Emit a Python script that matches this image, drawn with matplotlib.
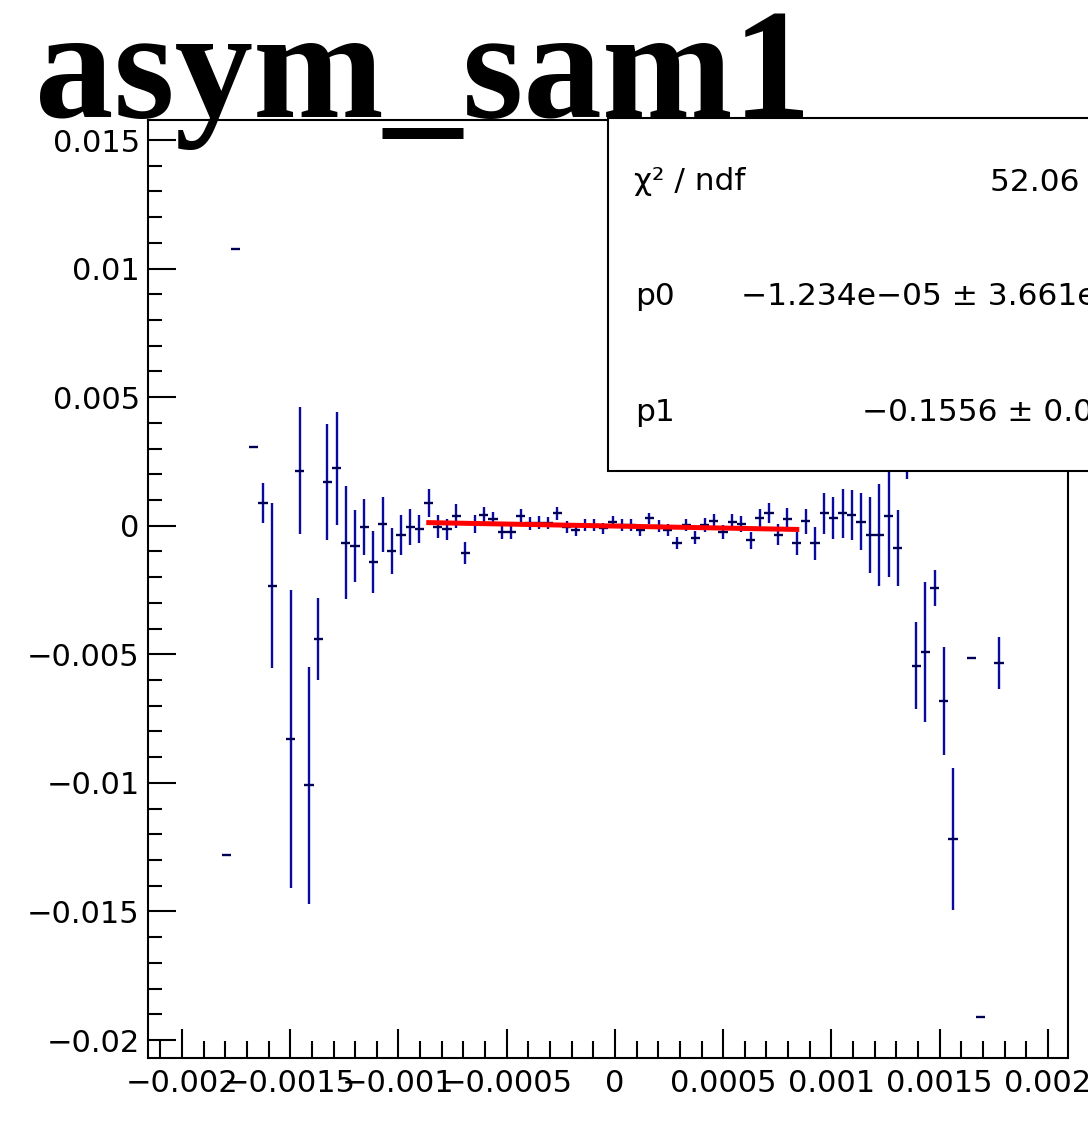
import numpy as np
import matplotlib
matplotlib.use("Agg")
import matplotlib.pyplot as plt
from matplotlib.patches import Rectangle
from matplotlib.ticker import MultipleLocator, FixedLocator

# histogram binning (100 bins)
xlo, nbins, bw = -0.002157, 100, 0.0000425

# filled bins: index, content, error
bin_idx = [8, 9, 11, 12, 13, 15, 16, 17, 18, 19, 20, 21, 22, 23, 24, 25, 26, 27, 28, 29,
           30, 31, 32, 33, 34, 35, 36, 37, 38, 39, 40, 41, 42, 43, 44, 45, 46, 47, 48, 49,
           50, 51, 52, 53, 54, 55, 56, 57, 58, 59, 60, 61, 62, 63, 64, 65, 66, 67, 68, 69,
           70, 71, 72, 73, 74, 75, 76, 77, 78, 79, 80, 81, 82, 83, 84, 85, 86, 87, 89, 90, 92]
content = [-0.01281, 0.01075, 0.00305, 0.00089, -0.00233, -0.0083, 0.00213, -0.0101, -0.0044, 0.00171,
           0.00223, -0.00066, -0.00078, -0.00005, -0.0014, 0.00005, -0.00098, -0.00036, -0.00005, -0.00014,
           0.00089, -0.00004, -0.00014, 0.00038, -0.00106, 0.00007, 0.00042, 0.00025, -0.00025, -0.00025,
           0.00038, 0.0001, 0.00012, 0.0001, 0.00048, -0.00004, -0.00017, 0.00003, 0.00003, -0.0001,
           0.00016, 0.00003, 0.00003, -0.00018, 0.00029, -0.00001, -0.00017, -0.00067, 0.00003, -0.00046,
           0.00003, 0.00018, -0.00025, 0.00014, 0.00007, -0.00056, 0.00029, 0.00049, -0.00035, 0.00027,
           -0.00068, 0.00017, -0.00068, 0.00048, 0.00029, 0.00048, 0.00042, 0.00016, -0.00036, -0.00036,
           0.00038, -0.00088, 0.0035, -0.00544, -0.00492, -0.00243, -0.0068, -0.01218, -0.00513, -0.01912,
           -0.00533]
error = [0, 0, 0, 0.00077, 0.0032, 0.0058, 0.00247, 0.0046, 0.0016, 0.00226,
         0.0022, 0.0022, 0.0014, 0.00108, 0.0012, 0.00108, 0.00088, 0.00076, 0.00071, 0.00055,
         0.00054, 0.00045, 0.00042, 0.00045, 0.00042, 0.00036, 0.0003, 0.00027, 0.00026, 0.00026,
         0.00026, 0.00025, 0.00024, 0.00024, 0.00025, 0.00023, 0.00023, 0.00023, 0.00022, 0.00022,
         0.00022, 0.00022, 0.00022, 0.00022, 0.00022, 0.00023, 0.00023, 0.00024, 0.00024, 0.00025,
         0.00026, 0.00027, 0.00028, 0.0003, 0.00031, 0.00033, 0.00036, 0.00038, 0.0004, 0.00042,
         0.00045, 0.00049, 0.00065, 0.0008, 0.00081, 0.00096, 0.00097, 0.00112, 0.00148, 0.002,
         0.00236, 0.00148, 0.0017, 0.00168, 0.00272, 0.00069, 0.0021, 0.00277, 0, 0,
         0.00102]

# pol1 fit
fit_range = (-0.00086, 0.00084)
p0, p1 = -1.234e-05, -0.1556

xticks = [-0.002, -0.0015, -0.001, -0.0005, 0, 0.0005, 0.001, 0.0015, 0.002]
xticklabels = ["\u22120.002", "\u22120.0015", "\u22120.001", "\u22120.0005", "0",
               "0.0005", "0.001", "0.0015", "0.002"]
yticks = [-0.02, -0.015, -0.01, -0.005, 0, 0.005, 0.01, 0.015]
yticklabels = ["\u22120.02", "\u22120.015", "\u22120.01", "\u22120.005", "0",
               "0.005", "0.01", "0.015"]

plt.rcParams["font.family"] = "DejaVu Sans"

W, H = 1088, 1128
fig = plt.figure(figsize=(W / 100, H / 100), dpi=100)
ax = fig.add_axes([148 / W, 1 - 1058 / H, 920 / W, 938 / H])

x = xlo + (np.array(bin_idx) + 0.5) * bw
y = np.array(content)
e = np.array(error)

ax.vlines(x, y - e, y + e, color="#0a0a9e", lw=1.7, zorder=3)
ax.hlines(y, x - bw / 2, x + bw / 2, color="#000055", lw=1.7, zorder=4)

fx = np.linspace(fit_range[0], fit_range[1], 50)
ax.plot(fx, p0 + p1 * fx, color="#ff0000", lw=3.6, zorder=5)

ax.set_xlim(xlo, xlo + nbins * bw)
ax.set_ylim(-0.0207, 0.01578)

ax.xaxis.set_major_locator(FixedLocator(xticks))
ax.set_xticklabels(xticklabels)
ax.xaxis.set_minor_locator(MultipleLocator(0.0001))
ax.yaxis.set_major_locator(FixedLocator(yticks))
ax.set_yticklabels(yticklabels)
ax.yaxis.set_minor_locator(MultipleLocator(0.001))

ax.tick_params(which="both", direction="in", top=False, right=False, width=1.5,
               labelsize=22, colors="black")
ax.tick_params(axis="y", which="major", length=20, pad=6)
ax.tick_params(axis="y", which="minor", length=10)
ax.tick_params(axis="x", which="major", length=21, pad=8)
ax.tick_params(axis="x", which="minor", length=12)
for s in ax.spines.values():
    s.set_linewidth(1.5)

# stats box
box = Rectangle((608 / W, 1 - 471 / H), 700 / W, 353 / H, transform=fig.transFigure,
                facecolor="white", edgecolor="black", lw=1.5, zorder=10)
fig.patches.append(box)
fs = 22.5
fig.text(634 / W, 1 - 190 / H, "\u03c7\u00b2 / ndf", fontsize=fs, va="baseline", zorder=11)
fig.text(990 / W, 1 - 191 / H, "52.06 / 43", fontsize=fs, va="baseline", zorder=11)
fig.text(635 / W, 1 - 305 / H, "p0", fontsize=fs, va="baseline", zorder=11)
fig.text(741 / W, 1 - 305 / H, "\u22121.234e\u221205 \u00b1 3.661e\u221205", fontsize=fs,
         va="baseline", zorder=11)
fig.text(635 / W, 1 - 421 / H, "p1", fontsize=fs, va="baseline", zorder=11)
fig.text(862 / W, 1 - 421 / H, "\u22120.1556 \u00b1 0.0412", fontsize=fs,
         va="baseline", zorder=11)

# title
fig.text(35 / W, 1 - 117 / H, "asym_sam1", fontsize=113, fontweight="bold",
         family="Liberation Serif", va="baseline", zorder=12)

fig.savefig("out.png", dpi=100)
